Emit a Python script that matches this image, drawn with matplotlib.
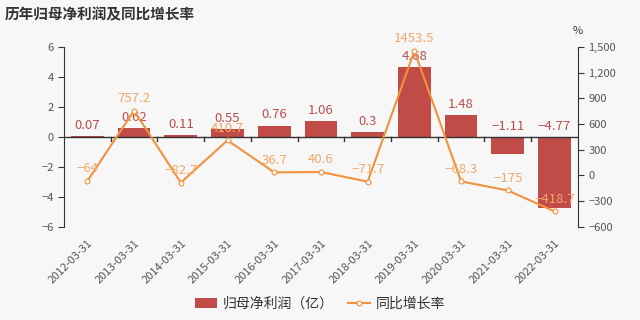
import matplotlib.pyplot as plt
import numpy as np

plt.rcParams['font.family'] = ['Noto Sans CJK SC', 'DejaVu Sans']
plt.rcParams['axes.unicode_minus'] = True

dates = ["2012-03-31", "2013-03-31", "2014-03-31", "2015-03-31", "2016-03-31",
         "2017-03-31", "2018-03-31", "2019-03-31", "2020-03-31", "2021-03-31",
         "2022-03-31"]
profit = [0.07, 0.62, 0.11, 0.55, 0.76, 1.06, 0.3, 4.68, 1.48, -1.11, -4.77]
growth = [-64, 757.2, -82.7, 410.7, 36.7, 40.6, -71.7, 1453.5, -68.3, -175, -418.7]

bg = "#f7f7f7"
bar_c = "#c14b47"
line_c = "#f0923e"
lab_c = "#f3a868"

fig = plt.figure(figsize=(6.4, 3.2), dpi=100, facecolor=bg)
ax = fig.add_axes([0.1, 0.291, 0.803, 0.562], facecolor=bg)
ax2 = ax.twinx()

x = np.arange(len(dates))
bars = ax.bar(x, profit, width=0.7, color=bar_c, label="归母净利润（亿）", zorder=2)
ax.set_ylim(-6, 6)
ax.set_yticks([-6, -4, -2, 0, 2, 4, 6])
ax.set_yticklabels(["−6", "−4", "−2", "0", "2", "4", "6"])
ax.set_xlim(-0.5, len(dates) - 0.5)

for xi, v in zip(x, profit):
    ax.annotate(f"{v:g}".replace("-", "−"), (xi, max(v, 0)), xytext=(0, 3),
                textcoords="offset points", ha="center", va="bottom",
                fontsize=9.5, color="#b8504e", zorder=5)

ax2.plot(x, growth, color=line_c, lw=1.5, marker="o", ms=3.5,
         mfc="white", mec=line_c, mew=0.8, label="同比增长率", zorder=3)
ax2.set_ylim(-600, 1500)
ax2.set_yticks(range(-600, 1501, 300))
ax2.set_yticklabels([f"{t:,}".replace("-", "−") for t in range(-600, 1501, 300)])
for xi, v in zip(x, growth):
    ax2.annotate(f"{v:g}".replace("-", "−"), (xi, v), xytext=(0, 4),
                 textcoords="offset points", ha="center", va="bottom",
                 fontsize=9.5, color=lab_c, zorder=5)

# spines and ticks
for a in (ax, ax2):
    a.spines["top"].set_visible(False)
    a.spines["bottom"].set_visible(False)
ax.spines["right"].set_visible(False)
ax2.spines["left"].set_visible(False)
ax.spines["left"].set_color("#333333")
ax2.spines["right"].set_color("#333333")
ax.tick_params(axis="y", colors="#333333", labelcolor="#555555", labelsize=8, length=4)
ax2.tick_params(axis="y", colors="#333333", labelcolor="#555555", labelsize=8, length=4)

ax.axhline(0, color="#333333", lw=1, zorder=4)
ax.set_xticks(x)
ax.set_xticklabels(dates, rotation=45, ha="right", rotation_mode="anchor",
                   fontsize=8, color="#555555")
ax.tick_params(axis="x", length=0, pad=8)
for b in np.arange(0.5, len(dates) - 0.5, 1):
    ax.plot([b, b], [0, -0.25], color="#333333", lw=1, zorder=4, clip_on=False)

ax2.text(1.0, 1.06, "%", transform=ax2.transAxes, ha="center", va="bottom",
         fontsize=8, color="#333333")

fig.text(0.008, 0.955, "历年归母净利润及同比增长率", fontsize=10.5, fontweight="bold",
         color="#333333", ha="left", va="center")

h1, l1 = ax.get_legend_handles_labels()
h2, l2 = ax2.get_legend_handles_labels()
fig.legend(h1 + h2, l1 + l2, loc="lower center", bbox_to_anchor=(0.5, -0.01),
           ncol=2, frameon=False, fontsize=10, labelcolor="#333333",
           handlelength=1.6, columnspacing=1.0, handletextpad=0.4)

ax.set_zorder(ax2.get_zorder() - 1)
ax.patch.set_visible(True)
ax2.patch.set_visible(False)

fig.savefig("out.png", dpi=100, facecolor=bg)
